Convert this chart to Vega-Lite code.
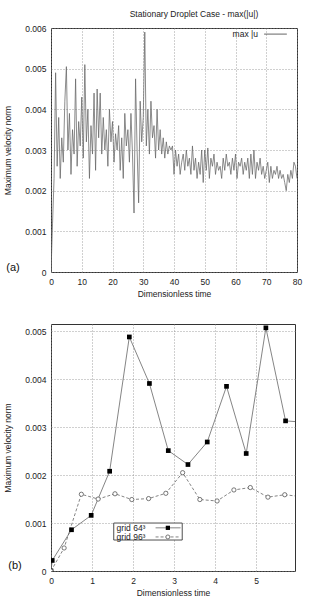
{
  "$schema": "https://vega.github.io/schema/vega-lite/v6.json",
  "padding": {"left": 3, "top": 9, "right": 0, "bottom": 0},
  "background": "white",
  "spacing": 52,
  "bounds": "flush",
  "config": {
    "font": "Liberation Sans",
    "view": {"stroke": "#333", "strokeWidth": 1},
    "axis": {
      "labelFont": "Liberation Sans", "labelFontSize": 8.5, "labelColor": "#222",
      "titleFont": "Liberation Sans", "titleFontSize": 8.5, "titleFontWeight": "normal", "titleColor": "#222",
      "grid": true, "gridDash": [1, 2], "gridColor": "#888", "gridWidth": 0.8,
      "domain": false, "ticks": false, "labelPadding": 5, "labelOverlap": false, "labelFlush": false
    }
  },
  "datasets": {
    "one": [{}],
    "ts": [
      {"t":0,"v":0.0},{"t":0.5,"v":1.2},{"t":1,"v":2.3},{"t":1.5,"v":4.9},{"t":2,"v":2.6},{"t":2.5,"v":3.8},{"t":3,"v":2.3},{"t":3.5,"v":3.3},{"t":4,"v":2.7},{"t":4.5,"v":4.2},
      {"t":5,"v":5.05},{"t":5.5,"v":3.0},{"t":6,"v":3.9},{"t":6.5,"v":2.4},{"t":7,"v":3.5},{"t":7.5,"v":2.9},{"t":8,"v":4.75},{"t":8.5,"v":2.6},{"t":9,"v":3.7},{"t":9.5,"v":3.1},
      {"t":10,"v":4.3},{"t":10.5,"v":2.8},{"t":11,"v":5.1},{"t":11.5,"v":3.2},{"t":12,"v":4.0},{"t":12.5,"v":2.3},{"t":13,"v":3.6},{"t":13.5,"v":2.9},{"t":14,"v":4.4},{"t":14.5,"v":2.5},
      {"t":15,"v":4.5},{"t":15.5,"v":3.3},{"t":16,"v":4.4},{"t":16.5,"v":2.9},{"t":17,"v":3.8},{"t":17.5,"v":3.0},{"t":18,"v":3.5},{"t":18.5,"v":2.6},{"t":19,"v":4.0},{"t":19.5,"v":3.2},
      {"t":20,"v":3.7},{"t":20.5,"v":2.7},{"t":21,"v":3.4},{"t":21.5,"v":3.0},{"t":22,"v":3.6},{"t":22.5,"v":2.5},{"t":23,"v":3.3},{"t":23.5,"v":2.3},{"t":24,"v":3.9},{"t":24.5,"v":3.1},
      {"t":25,"v":3.5},{"t":25.5,"v":2.7},{"t":26,"v":3.9},{"t":26.5,"v":2.9},{"t":27,"v":1.45},{"t":27.5,"v":4.75},{"t":28,"v":3.0},{"t":28.5,"v":1.7},{"t":29,"v":4.2},{"t":29.5,"v":3.2},
      {"t":30,"v":3.8},{"t":30.5,"v":5.9},{"t":31,"v":3.1},{"t":31.5,"v":4.0},{"t":32,"v":2.9},{"t":32.5,"v":4.2},{"t":33,"v":3.3},{"t":33.5,"v":3.6},{"t":34,"v":2.8},{"t":34.5,"v":4.0},
      {"t":35,"v":3.0},{"t":35.5,"v":3.5},{"t":36,"v":2.9},{"t":36.5,"v":3.3},{"t":37,"v":2.8},{"t":37.5,"v":3.2},{"t":38,"v":2.9},{"t":38.5,"v":3.1},{"t":39,"v":3.0},{"t":39.5,"v":3.1},
      {"t":40,"v":2.4},{"t":40.5,"v":3.0},{"t":41,"v":2.6},{"t":41.5,"v":2.9},{"t":42,"v":2.4},{"t":42.5,"v":2.7},{"t":43,"v":2.9},{"t":43.5,"v":2.5},{"t":44,"v":3.0},{"t":44.5,"v":2.6},
      {"t":45,"v":2.8},{"t":45.5,"v":2.4},{"t":46,"v":3.1},{"t":46.5,"v":2.5},{"t":47,"v":2.8},{"t":47.5,"v":2.3},{"t":48,"v":2.7},{"t":48.5,"v":2.4},{"t":49,"v":3.0},{"t":49.5,"v":2.2},
      {"t":50,"v":3.0},{"t":50.5,"v":2.5},{"t":51,"v":3.05},{"t":51.5,"v":2.3},{"t":52,"v":2.8},{"t":52.5,"v":2.6},{"t":53,"v":2.9},{"t":53.5,"v":2.4},{"t":54,"v":2.7},{"t":54.5,"v":2.5},
      {"t":55,"v":2.6},{"t":55.5,"v":2.3},{"t":56,"v":2.8},{"t":56.5,"v":2.5},{"t":57,"v":2.9},{"t":57.5,"v":2.6},{"t":58,"v":2.7},{"t":58.5,"v":2.4},{"t":59,"v":2.8},{"t":59.5,"v":2.5},
      {"t":60,"v":2.9},{"t":60.5,"v":2.3},{"t":61,"v":2.7},{"t":61.5,"v":2.6},{"t":62,"v":2.8},{"t":62.5,"v":2.4},{"t":63,"v":2.7},{"t":63.5,"v":2.5},{"t":64,"v":2.8},{"t":64.5,"v":2.3},
      {"t":65,"v":2.9},{"t":65.5,"v":2.4},{"t":66,"v":3.0},{"t":66.5,"v":2.3},{"t":67,"v":2.7},{"t":67.5,"v":2.5},{"t":68,"v":2.8},{"t":68.5,"v":2.4},{"t":69,"v":2.6},{"t":69.5,"v":2.3},
      {"t":70,"v":2.5},{"t":70.5,"v":2.7},{"t":71,"v":2.2},{"t":71.5,"v":2.6},{"t":72,"v":2.3},{"t":72.5,"v":2.5},{"t":73,"v":2.4},{"t":73.5,"v":2.6},{"t":74,"v":2.3},{"t":74.5,"v":2.5},
      {"t":75,"v":2.3},{"t":75.5,"v":2.4},{"t":76,"v":2.2},{"t":76.5,"v":2.0},{"t":77,"v":2.4},{"t":77.5,"v":2.2},{"t":78,"v":2.5},{"t":78.5,"v":2.3},{"t":79,"v":2.7},{"t":79.5,"v":2.6},{"t":80,"v":2.3}
    ],
    "grid": [
      {"g":"64","t":0,"v":0.0},{"g":"64","t":0.03,"v":0.00022},{"g":"64","t":0.50,"v":0.00086},{"g":"64","t":0.98,"v":0.00116},{"g":"64","t":1.43,"v":0.00208},
      {"g":"64","t":1.91,"v":0.00488},{"g":"64","t":2.40,"v":0.00391},{"g":"64","t":2.86,"v":0.00251},{"g":"64","t":3.34,"v":0.00222},{"g":"64","t":3.81,"v":0.00269},
      {"g":"64","t":4.28,"v":0.00385},{"g":"64","t":4.76,"v":0.00245},{"g":"64","t":5.24,"v":0.00507},{"g":"64","t":5.72,"v":0.00313},{"g":"64","t":6.2,"v":0.0031},
      {"g":"96","t":0,"v":0.0},{"g":"96","t":0.32,"v":0.00048},{"g":"96","t":0.74,"v":0.0016},{"g":"96","t":1.15,"v":0.0015},{"g":"96","t":1.56,"v":0.00161},
      {"g":"96","t":1.97,"v":0.00149},{"g":"96","t":2.38,"v":0.00151},{"g":"96","t":2.80,"v":0.00162},{"g":"96","t":3.21,"v":0.00205},{"g":"96","t":3.63,"v":0.00149},
      {"g":"96","t":4.05,"v":0.00146},{"g":"96","t":4.46,"v":0.00169},{"g":"96","t":4.86,"v":0.00174},{"g":"96","t":5.29,"v":0.00154},{"g":"96","t":5.70,"v":0.00159},{"g":"96","t":6.11,"v":0.00155}
    ]
  },
  "vconcat": [
    {
      "width": 246,
      "height": 244,
      "title": {"text": "Stationary Droplet Case - max(|u|)", "fontSize": 8.5, "fontWeight": "normal", "font": "Liberation Sans", "color": "#222", "anchor": "middle", "dx": 20, "offset": 6},
      "layer": [
        {
          "data": {"name": "ts"},
          "transform": [{"calculate": "datum.v / 1000", "as": "vn"}],
          "mark": {"type": "line", "color": "#666", "strokeWidth": 0.75, "clip": true},
          "encoding": {
            "x": {"field": "t", "type": "quantitative", "scale": {"domain": [0, 80], "nice": false}, "axis": {"values": [0,10,20,30,40,50,60,70,80], "title": "Dimensionless time", "titlePadding": 4}},
            "y": {"field": "vn", "type": "quantitative", "scale": {"domain": [0, 0.006], "nice": false}, "axis": {"values": [0,0.001,0.002,0.003,0.004,0.005,0.006], "labelExpr": "datum.value == 0 ? '0' : format(datum.value, '.3f')", "title": "Maximum velocity norm", "titlePadding": 12}}
          }
        },
        {
          "data": {"name": "one"},
          "mark": {"type": "text", "text": "(a)", "fontSize": 11, "font": "Liberation Sans", "color": "#111", "dx": -38, "dy": -4},
          "encoding": {
            "x": {"datum": 0, "type": "quantitative", "axis": {"values": [0,10,20,30,40,50,60,70,80], "title": "Dimensionless time", "titlePadding": 4}},
            "y": {"datum": 0, "type": "quantitative", "axis": {"values": [0,0.001,0.002,0.003,0.004,0.005,0.006], "labelExpr": "datum.value == 0 ? '0' : format(datum.value, '.3f')", "title": "Maximum velocity norm", "titlePadding": 12}}
          }
        },
        {
          "data": {"name": "one"},
          "mark": {"type": "text", "text": "max |u", "fontSize": 8.5, "font": "Liberation Sans", "color": "#222", "align": "right"},
          "encoding": {
            "x": {"datum": 67.3, "type": "quantitative", "axis": {"values": [0,10,20,30,40,50,60,70,80], "title": "Dimensionless time", "titlePadding": 4}},
            "y": {"datum": 0.00585, "type": "quantitative", "axis": {"values": [0,0.001,0.002,0.003,0.004,0.005,0.006], "labelExpr": "datum.value == 0 ? '0' : format(datum.value, '.3f')", "title": "Maximum velocity norm", "titlePadding": 12}}
          }
        },
        {
          "data": {"name": "one"},
          "mark": {"type": "rule", "color": "#555", "strokeWidth": 0.9},
          "encoding": {
            "x": {"datum": 69.3, "type": "quantitative", "axis": {"values": [0,10,20,30,40,50,60,70,80], "title": "Dimensionless time", "titlePadding": 4}},
            "x2": {"datum": 76.7},
            "y": {"datum": 0.00585, "type": "quantitative", "axis": {"values": [0,0.001,0.002,0.003,0.004,0.005,0.006], "labelExpr": "datum.value == 0 ? '0' : format(datum.value, '.3f')", "title": "Maximum velocity norm", "titlePadding": 12}}
          }
        }
      ]
    },
    {
      "width": 244,
      "height": 247,
      "layer": [
        {
          "data": {"name": "grid"},
          "transform": [{"filter": "datum.g == '64'"}],
          "mark": {"type": "line", "color": "#666", "strokeWidth": 0.8, "clip": true},
          "encoding": {
            "x": {"field": "t", "type": "quantitative", "scale": {"domain": [0, 5.95], "nice": false}, "axis": {"values": [0,1,2,3,4,5], "title": "Dimensionless time", "titlePadding": 4}},
            "y": {"field": "v", "type": "quantitative", "scale": {"domain": [0, 0.00515], "nice": false}, "axis": {"values": [0,0.001,0.002,0.003,0.004,0.005], "labelExpr": "datum.value == 0 ? '0' : format(datum.value, '.3f')", "title": "Maximum velocity norm", "titlePadding": 12}}
          }
        },
        {
          "data": {"name": "grid"},
          "transform": [{"filter": "datum.g == '96'"}],
          "mark": {"type": "line", "color": "#666", "strokeWidth": 0.8, "strokeDash": [3, 2], "clip": true},
          "encoding": {"x": {"field": "t", "type": "quantitative"}, "y": {"field": "v", "type": "quantitative"}}
        },
        {
          "data": {"name": "grid"},
          "transform": [{"filter": "datum.g == '64'"}],
          "mark": {"type": "point", "shape": "square", "filled": true, "color": "#000", "size": 22, "opacity": 1, "clip": true},
          "encoding": {"x": {"field": "t", "type": "quantitative"}, "y": {"field": "v", "type": "quantitative"}}
        },
        {
          "data": {"name": "grid"},
          "transform": [{"filter": "datum.g == '96'"}],
          "mark": {"type": "point", "shape": "circle", "filled": true, "fill": "white", "stroke": "#555", "strokeWidth": 0.8, "size": 18, "opacity": 1, "clip": true},
          "encoding": {"x": {"field": "t", "type": "quantitative"}, "y": {"field": "v", "type": "quantitative"}}
        },
        {
          "data": {"name": "one"},
          "mark": {"type": "text", "text": "(b)", "fontSize": 11, "font": "Liberation Sans", "color": "#111", "dx": -36, "dy": -5},
          "encoding": {"x": {"datum": 0, "type": "quantitative"}, "y": {"datum": 0, "type": "quantitative"}}
        },
        {
          "data": {"name": "one"},
          "mark": {"type": "rect", "fill": "white", "stroke": "#222", "strokeWidth": 0.8},
          "encoding": {"x": {"datum": 1.53, "type": "quantitative"}, "x2": {"datum": 3.2}, "y": {"datum": 0.001, "type": "quantitative"}, "y2": {"datum": 0.000646}}
        },
        {
          "data": {"name": "one"},
          "mark": {"type": "text", "text": "grid 64³", "fontSize": 8.5, "font": "Liberation Sans", "color": "#222", "align": "left"},
          "encoding": {"x": {"datum": 1.6, "type": "quantitative"}, "y": {"datum": 0.0009, "type": "quantitative"}}
        },
        {
          "data": {"name": "one"},
          "mark": {"type": "text", "text": "grid 96³", "fontSize": 8.5, "font": "Liberation Sans", "color": "#222", "align": "left"},
          "encoding": {"x": {"datum": 1.6, "type": "quantitative"}, "y": {"datum": 0.00071, "type": "quantitative"}}
        },
        {
          "data": {"name": "one"},
          "mark": {"type": "rule", "color": "#666", "strokeWidth": 0.8},
          "encoding": {"x": {"datum": 2.55, "type": "quantitative"}, "x2": {"datum": 3.16}, "y": {"datum": 0.0009, "type": "quantitative"}}
        },
        {
          "data": {"name": "one"},
          "mark": {"type": "rule", "color": "#666", "strokeWidth": 0.8, "strokeDash": [3, 2]},
          "encoding": {"x": {"datum": 2.55, "type": "quantitative"}, "x2": {"datum": 3.16}, "y": {"datum": 0.00071, "type": "quantitative"}}
        },
        {
          "data": {"name": "one"},
          "mark": {"type": "point", "shape": "square", "filled": true, "color": "#000", "size": 18, "opacity": 1},
          "encoding": {"x": {"datum": 2.85, "type": "quantitative"}, "y": {"datum": 0.0009, "type": "quantitative"}}
        },
        {
          "data": {"name": "one"},
          "mark": {"type": "point", "shape": "circle", "filled": true, "fill": "white", "stroke": "#555", "strokeWidth": 0.8, "size": 16, "opacity": 1},
          "encoding": {"x": {"datum": 2.85, "type": "quantitative"}, "y": {"datum": 0.00071, "type": "quantitative"}}
        }
      ]
    }
  ]
}
